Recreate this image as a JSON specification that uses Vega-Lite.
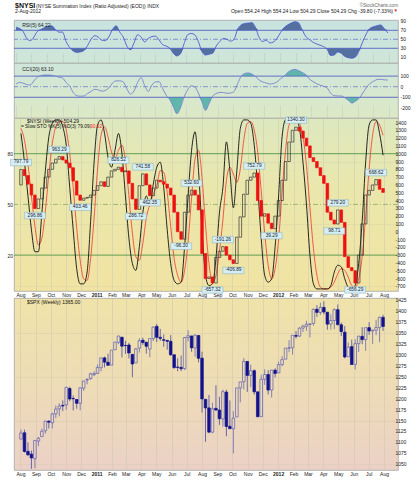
{
"$schema":"https://vega.github.io/schema/vega-lite/v6.json",
"background":"white",
"padding":{"left":6,"top":0,"right":2,"bottom":0},
"spacing":0,
"bounds":"flush",
"config":{"font":"Liberation Sans","view":{"stroke":"#a4a4a4","strokeWidth":0.8},
 "axis":{"labelFont":"Liberation Sans","labelFontSize":5,"labelColor":"#222","ticks":false,"domain":false,"minExtent":0,"labelPadding":1.5,"labelOverlap":false},
 "text":{"font":"Liberation Sans"}},
"datasets":{
"w":[
{"d":"2010-08-02","no":600,"nc":797.79,"k":92,"dd":95,"r":77,"c":25,"o":1107.5,"h":1129.2,"l":1107.5,"s":1121.6},
{"d":"2010-08-09","no":797.79,"nc":720,"k":75,"dd":88,"r":74,"c":40,"o":1122,"h":1129.2,"l":1076.6,"s":1079.3},
{"d":"2010-08-16","no":720,"nc":610,"k":55,"dd":74,"r":67,"c":33,"o":1079.6,"h":1100.1,"l":1069.5,"s":1071.7},
{"d":"2010-08-23","no":610,"nc":470,"k":35,"dd":55,"r":52,"c":20,"o":1073.4,"h":1081.6,"l":1039.7,"s":1064.6},
{"d":"2010-08-30","no":470,"nc":296.86,"k":22,"dd":37,"r":47,"c":16,"o":1062.9,"h":1105.1,"l":1040.9,"s":1104.5},
{"d":"2010-09-06","no":296.86,"nc":420,"k":22,"dd":26,"r":55,"c":55,"o":1103,"h":1112.4,"l":1091.2,"s":1109.6},
{"d":"2010-09-13","no":420,"nc":560,"k":45,"dd":30,"r":68,"c":90,"o":1113.4,"h":1131.5,"l":1113.4,"s":1125.6},
{"d":"2010-09-20","no":560,"nc":700,"k":70,"dd":46,"r":72,"c":106,"o":1126.6,"h":1148.9,"l":1120.2,"s":1148.7},
{"d":"2010-09-27","no":700,"nc":800,"k":90,"dd":68,"r":76,"c":110,"o":1148.6,"h":1150.3,"l":1131.9,"s":1146.2},
{"d":"2010-10-04","no":800,"nc":880,"k":98,"dd":86,"r":79,"c":110,"o":1144.9,"h":1167.7,"l":1131.9,"s":1165.2},
{"d":"2010-10-11","no":880,"nc":930,"k":100,"dd":96,"r":80,"c":108,"o":1165.3,"h":1184.4,"l":1155.7,"s":1176.2},
{"d":"2010-10-18","no":930,"nc":963.29,"k":100,"dd":99,"r":72,"c":100,"o":1176.8,"h":1189.4,"l":1159.7,"s":1183.1},
{"d":"2010-10-25","no":963.29,"nc":920,"k":96,"dd":99,"r":66,"c":90,"o":1184.7,"h":1196.1,"l":1171.7,"s":1183.3},
{"d":"2010-11-01","no":920,"nc":880,"k":85,"dd":94,"r":66,"c":82,"o":1185.7,"h":1227.1,"l":1174.3,"s":1225.9},
{"d":"2010-11-08","no":880,"nc":820,"k":60,"dd":80,"r":45,"c":40,"o":1223.2,"h":1227.1,"l":1194.1,"s":1199.2},
{"d":"2010-11-15","no":820,"nc":650,"k":35,"dd":60,"r":32,"c":5,"o":1200.4,"h":1207.4,"l":1173,"s":1199.7},
{"d":"2010-11-22","no":650,"nc":470,"k":12,"dd":36,"r":24,"c":-55,"o":1198.1,"h":1198.9,"l":1176.9,"s":1189.4},
{"d":"2010-11-29","no":470,"nc":403.46,"k":3,"dd":17,"r":21,"c":-85,"o":1189.4,"h":1225.6,"l":1173.6,"s":1224.7},
{"d":"2010-12-06","no":403.46,"nc":430,"k":3,"dd":6,"r":22,"c":-90,"o":1223.9,"h":1240.4,"l":1217.8,"s":1240.4},
{"d":"2010-12-13","no":430,"nc":440,"k":10,"dd":5,"r":25,"c":-88,"o":1242.5,"h":1246.7,"l":1232.8,"s":1243.9},
{"d":"2010-12-20","no":440,"nc":470,"k":40,"dd":18,"r":36,"c":-65,"o":1245.8,"h":1259.4,"l":1243.2,"s":1256.8},
{"d":"2010-12-27","no":470,"nc":530,"k":75,"dd":42,"r":50,"c":-45,"o":1254.7,"h":1262.6,"l":1251.5,"s":1257.6},
{"d":"2011-01-03","no":530,"nc":590,"k":97,"dd":71,"r":58,"c":-25,"o":1257.6,"h":1278.2,"l":1257.6,"s":1271.5},
{"d":"2011-01-10","no":590,"nc":640,"k":100,"dd":91,"r":55,"c":-30,"o":1270.8,"h":1293.2,"l":1262.7,"s":1293.2},
{"d":"2011-01-17","no":640,"nc":580,"k":92,"dd":96,"r":48,"c":-42,"o":1293.2,"h":1296.1,"l":1271.3,"s":1283.4},
{"d":"2011-01-24","no":580,"nc":700,"k":78,"dd":90,"r":47,"c":-35,"o":1283.3,"h":1302.7,"l":1275.9,"s":1276.3},
{"d":"2011-01-31","no":700,"nc":780,"k":72,"dd":81,"r":56,"c":-10,"o":1276.5,"h":1311,"l":1276.5,"s":1310.9},
{"d":"2011-02-07","no":780,"nc":800,"k":82,"dd":77,"r":72,"c":35,"o":1311.9,"h":1330.3,"l":1311.7,"s":1329.2},
{"d":"2011-02-14","no":800,"nc":826.52,"k":92,"dd":82,"r":80,"c":55,"o":1328.7,"h":1344.1,"l":1324.6,"s":1343},
{"d":"2011-02-21","no":826.52,"nc":770,"k":80,"dd":85,"r":66,"c":55,"o":1340.4,"h":1340.4,"l":1294.3,"s":1319.9},
{"d":"2011-02-28","no":770,"nc":780,"k":55,"dd":76,"r":55,"c":45,"o":1321.6,"h":1332.3,"l":1302.3,"s":1321.2},
{"d":"2011-03-07","no":780,"nc":620,"k":30,"dd":55,"r":35,"c":-20,"o":1322.7,"h":1327.7,"l":1291.8,"s":1304.3},
{"d":"2011-03-14","no":620,"nc":420,"k":15,"dd":33,"r":27,"c":-70,"o":1301.2,"h":1301.2,"l":1249.1,"s":1279.2},
{"d":"2011-03-21","no":420,"nc":286.72,"k":11,"dd":19,"r":42,"c":-40,"o":1281.7,"h":1315.8,"l":1281.7,"s":1313.8},
{"d":"2011-03-28","no":286.72,"nc":590,"k":25,"dd":17,"r":60,"c":40,"o":1315.5,"h":1337.9,"l":1305.3,"s":1332.4},
{"d":"2011-04-04","no":590,"nc":741.58,"k":45,"dd":27,"r":55,"c":85,"o":1333.6,"h":1339.5,"l":1322.9,"s":1328.2},
{"d":"2011-04-11","no":741.58,"nc":600,"k":55,"dd":42,"r":44,"c":10,"o":1329,"h":1329,"l":1302.7,"s":1319.7},
{"d":"2011-04-18","no":600,"nc":462.35,"k":50,"dd":50,"r":52,"c":-45,"o":1313.3,"h":1337.5,"l":1294.7,"s":1337.4},
{"d":"2011-04-25","no":462.35,"nc":560,"k":62,"dd":56,"r":56,"c":15,"o":1337.1,"h":1364.6,"l":1331.5,"s":1363.6},
{"d":"2011-05-02","no":560,"nc":660,"k":72,"dd":61,"r":57,"c":45,"o":1365.2,"h":1370.6,"l":1329.2,"s":1340.2},
{"d":"2011-05-09","no":660,"nc":640,"k":75,"dd":70,"r":49,"c":47,"o":1340.2,"h":1359.4,"l":1332,"s":1337.8},
{"d":"2011-05-16","no":640,"nc":610,"k":60,"dd":69,"r":38,"c":-16,"o":1334.8,"h":1346.8,"l":1318.5,"s":1333.3},
{"d":"2011-05-23","no":610,"nc":560,"k":35,"dd":57,"r":35,"c":-80,"o":1333.1,"h":1334.6,"l":1311.8,"s":1331.1},
{"d":"2011-05-30","no":560,"nc":470,"k":15,"dd":37,"r":30,"c":-120,"o":1331.1,"h":1345.2,"l":1297.9,"s":1300.2},
{"d":"2011-06-06","no":470,"nc":250,"k":5,"dd":18,"r":19,"c":-190,"o":1300.3,"h":1300.3,"l":1268.4,"s":1271},
{"d":"2011-06-13","no":250,"nc":0,"k":3,"dd":8,"r":13,"c":-255,"o":1272.2,"h":1292.5,"l":1262.7,"s":1271.5},
{"d":"2011-06-20","no":0,"nc":-96.3,"k":4,"dd":4,"r":18,"c":-200,"o":1271.5,"h":1298.6,"l":1262.9,"s":1268.5},
{"d":"2011-06-27","no":-96.3,"nc":250,"k":25,"dd":11,"r":40,"c":-100,"o":1268.4,"h":1341,"l":1265.6,"s":1339.7},
{"d":"2011-07-04","no":250,"nc":470,"k":55,"dd":28,"r":60,"c":-30,"o":1339.6,"h":1356.5,"l":1331.1,"s":1343.8},
{"d":"2011-07-11","no":470,"nc":532.6,"k":82,"dd":54,"r":63,"c":8,"o":1343.3,"h":1343.3,"l":1307.1,"s":1316.1},
{"d":"2011-07-18","no":532.6,"nc":470,"k":93,"dd":77,"r":60,"c":-2,"o":1315.9,"h":1347,"l":1295.9,"s":1345},
{"d":"2011-07-25","no":470,"nc":280,"k":70,"dd":82,"r":45,"c":-60,"o":1344.3,"h":1344.3,"l":1282.9,"s":1292.3},
{"d":"2011-08-01","no":280,"nc":-280,"k":35,"dd":66,"r":23,"c":-142,"o":1292.6,"h":1307.4,"l":1168.1,"s":1199.4},
{"d":"2011-08-08","no":-280,"nc":-600,"k":8,"dd":38,"r":15,"c":-225,"o":1198.5,"h":1198.5,"l":1101.5,"s":1178.8},
{"d":"2011-08-15","no":-600,"nc":-580,"k":2,"dd":15,"r":17,"c":-160,"o":1178.9,"h":1208.5,"l":1121.1,"s":1123.5},
{"d":"2011-08-22","no":-580,"nc":-657.32,"k":3,"dd":4,"r":19,"c":-90,"o":1123.6,"h":1190.7,"l":1121.1,"s":1176.8},
{"d":"2011-08-29","no":-657.32,"nc":-330,"k":18,"dd":8,"r":35,"c":-65,"o":1177.9,"h":1230.7,"l":1172.9,"s":1174},
{"d":"2011-09-05","no":-330,"nc":-250,"k":45,"dd":22,"r":45,"c":-54,"o":1174,"h":1204.4,"l":1140.1,"s":1154.2},
{"d":"2011-09-12","no":-250,"nc":-191.26,"k":60,"dd":41,"r":52,"c":-55,"o":1153.5,"h":1220.4,"l":1136.1,"s":1216},
{"d":"2011-09-19","no":-191.26,"nc":-300,"k":87,"dd":64,"r":50,"c":-62,"o":1215,"h":1220.4,"l":1114.2,"s":1136.4},
{"d":"2011-09-26","no":-300,"nc":-360,"k":70,"dd":72,"r":46,"c":-60,"o":1136.9,"h":1195.9,"l":1131.1,"s":1131.4},
{"d":"2011-10-03","no":-360,"nc":-406.89,"k":48,"dd":68,"r":50,"c":-45,"o":1131.2,"h":1171.4,"l":1074.8,"s":1155.5},
{"d":"2011-10-10","no":-406.89,"nc":-70,"k":70,"dd":63,"r":73,"c":30,"o":1158.2,"h":1224.6,"l":1158.2,"s":1224.6},
{"d":"2011-10-17","no":-70,"nc":190,"k":95,"dd":71,"r":82,"c":100,"o":1224.5,"h":1238.3,"l":1191.5,"s":1238.3},
{"d":"2011-10-24","no":190,"nc":480,"k":100,"dd":88,"r":85,"c":125,"o":1238.7,"h":1292.7,"l":1221.1,"s":1285.1},
{"d":"2011-10-31","no":480,"nc":660,"k":100,"dd":98,"r":86,"c":130,"o":1285,"h":1285,"l":1215.4,"s":1253.2},
{"d":"2011-11-07","no":660,"nc":700,"k":98,"dd":99,"r":87,"c":118,"o":1253.2,"h":1277.6,"l":1226.6,"s":1263.9},
{"d":"2011-11-14","no":700,"nc":752.79,"k":85,"dd":94,"r":76,"c":95,"o":1263.9,"h":1267,"l":1209.4,"s":1215.7},
{"d":"2011-11-21","no":752.79,"nc":400,"k":60,"dd":81,"r":54,"c":63,"o":1215.6,"h":1215.6,"l":1158.7,"s":1158.7},
{"d":"2011-11-28","no":400,"nc":200,"k":30,"dd":58,"r":45,"c":45,"o":1159,"h":1255.1,"l":1158.7,"s":1244.3},
{"d":"2011-12-05","no":200,"nc":230,"k":8,"dd":33,"r":48,"c":35,"o":1244.3,"h":1267.1,"l":1231.5,"s":1255.2},
{"d":"2011-12-12","no":230,"nc":110,"k":4,"dd":14,"r":42,"c":25,"o":1255.1,"h":1265.4,"l":1209.5,"s":1219.7},
{"d":"2011-12-19","no":110,"nc":39.29,"k":6,"dd":6,"r":44,"c":30,"o":1219.7,"h":1265.4,"l":1202.4,"s":1265.3},
{"d":"2011-12-26","no":39.29,"nc":200,"k":25,"dd":12,"r":52,"c":45,"o":1265,"h":1269.4,"l":1248.6,"s":1257.6},
{"d":"2012-01-02","no":200,"nc":400,"k":55,"dd":29,"r":65,"c":75,"o":1258.9,"h":1284.6,"l":1258.9,"s":1277.8},
{"d":"2012-01-09","no":400,"nc":660,"k":90,"dd":57,"r":76,"c":100,"o":1277.8,"h":1296.8,"l":1274.1,"s":1289.1},
{"d":"2012-01-16","no":660,"nc":900,"k":100,"dd":82,"r":82,"c":135,"o":1290.2,"h":1315.5,"l":1290.2,"s":1315.4},
{"d":"2012-01-23","no":900,"nc":1150,"k":100,"dd":97,"r":86,"c":155,"o":1315.3,"h":1333.5,"l":1306.1,"s":1316.3},
{"d":"2012-01-30","no":1150,"nc":1300,"k":100,"dd":100,"r":89,"c":164,"o":1316.2,"h":1345.3,"l":1300.5,"s":1344.9},
{"d":"2012-02-06","no":1300,"nc":1340.3,"k":100,"dd":100,"r":87,"c":152,"o":1344.3,"h":1354.3,"l":1337.5,"s":1342.6},
{"d":"2012-02-13","no":1340.3,"nc":1290,"k":95,"dd":98,"r":72,"c":135,"o":1343.1,"h":1363.4,"l":1340.8,"s":1361.2},
{"d":"2012-02-20","no":1290,"nc":1200,"k":75,"dd":90,"r":57,"c":115,"o":1361.2,"h":1368.9,"l":1352.3,"s":1365.7},
{"d":"2012-02-27","no":1200,"nc":1100,"k":50,"dd":73,"r":50,"c":75,"o":1365.2,"h":1378,"l":1354.9,"s":1370},
{"d":"2012-03-05","no":1100,"nc":950,"k":20,"dd":48,"r":44,"c":50,"o":1369.6,"h":1372,"l":1340,"s":1370.9},
{"d":"2012-03-12","no":950,"nc":900,"k":3,"dd":24,"r":40,"c":30,"o":1371.9,"h":1405.9,"l":1366.7,"s":1404.2},
{"d":"2012-03-19","no":900,"nc":820,"k":0,"dd":8,"r":37,"c":15,"o":1404.2,"h":1414,"l":1386.9,"s":1397.1},
{"d":"2012-03-26","no":820,"nc":720,"k":0,"dd":1,"r":34,"c":5,"o":1397.1,"h":1419.2,"l":1391.2,"s":1408.5},
{"d":"2012-04-02","no":720,"nc":620,"k":0,"dd":0,"r":28,"c":-10,"o":1408.5,"h":1422.4,"l":1392.8,"s":1398.1},
{"d":"2012-04-09","no":620,"nc":250,"k":0,"dd":0,"r":14,"c":-60,"o":1397.5,"h":1397.5,"l":1357.4,"s":1370.3},
{"d":"2012-04-16","no":250,"nc":150,"k":2,"dd":1,"r":15,"c":-85,"o":1370.3,"h":1392.8,"l":1358,"s":1378.5},
{"d":"2012-04-23","no":150,"nc":98.71,"k":10,"dd":4,"r":22,"c":-88,"o":1378.5,"h":1406.6,"l":1358.8,"s":1403.4},
{"d":"2012-04-30","no":98.71,"nc":279.2,"k":14,"dd":9,"r":19,"c":-88,"o":1403.3,"h":1415.3,"l":1367.3,"s":1369.1},
{"d":"2012-05-07","no":279.2,"nc":120,"k":13,"dd":12,"r":12,"c":-105,"o":1368.8,"h":1373.9,"l":1343.1,"s":1353.4},
{"d":"2012-05-14","no":120,"nc":-320,"k":6,"dd":11,"r":9,"c":-130,"o":1351.9,"h":1365.9,"l":1292,"s":1295.2},
{"d":"2012-05-21","no":-320,"nc":-460,"k":1,"dd":7,"r":8,"c":-155,"o":1295.7,"h":1328.5,"l":1295.7,"s":1317.8},
{"d":"2012-05-28","no":-460,"nc":-500,"k":0,"dd":2,"r":11,"c":-135,"o":1318.9,"h":1334.9,"l":1277.8,"s":1278},
{"d":"2012-06-04","no":-500,"nc":-656.29,"k":2,"dd":1,"r":25,"c":-110,"o":1278.3,"h":1335.5,"l":1266.7,"s":1325.7},
{"d":"2012-06-11","no":-656.29,"nc":-300,"k":15,"dd":6,"r":45,"c":-60,"o":1325.7,"h":1343.3,"l":1306.6,"s":1342.8},
{"d":"2012-06-18","no":-300,"nc":100,"k":40,"dd":19,"r":62,"c":-10,"o":1342.4,"h":1363.5,"l":1324.4,"s":1335},
{"d":"2012-06-25","no":100,"nc":470,"k":75,"dd":43,"r":74,"c":30,"o":1334.9,"h":1362.2,"l":1309.3,"s":1362.2},
{"d":"2012-07-02","no":470,"nc":530,"k":97,"dd":71,"r":78,"c":50,"o":1362.3,"h":1374.8,"l":1345.7,"s":1354.7},
{"d":"2012-07-09","no":530,"nc":600,"k":100,"dd":91,"r":80,"c":68,"o":1354.7,"h":1357.2,"l":1325.4,"s":1356.8},
{"d":"2012-07-16","no":600,"nc":668.62,"k":100,"dd":99,"r":82,"c":70,"o":1356.5,"h":1380,"l":1345.1,"s":1362.7},
{"d":"2012-07-23","no":668.62,"nc":544.09,"k":92,"dd":97,"r":74,"c":65,"o":1362.3,"h":1387.2,"l":1329.2,"s":1386},
{"d":"2012-07-30","no":554.24,"nc":504.29,"k":79.09,"dd":90.92,"r":64.22,"c":63.1,"o":1385.9,"h":1391.7,"l":1354.7,"s":1365}
],
"lab":[
{"d":"2010-08-02","v":797.79,"t":"797.79","p":"up"},
{"d":"2010-08-30","v":296.86,"t":"296.86","p":"dn"},
{"d":"2010-10-18","v":963.29,"t":"963.29","p":"up"},
{"d":"2010-11-29","v":403.46,"t":"403.46","p":"dn"},
{"d":"2011-02-14","v":826.52,"t":"826.52","p":"up"},
{"d":"2011-03-21","v":286.72,"t":"286.72","p":"dn"},
{"d":"2011-04-04","v":741.58,"t":"741.58","p":"up"},
{"d":"2011-04-18","v":462.35,"t":"462.35","p":"dn"},
{"d":"2011-06-20","v":-96.3,"t":"-96.30","p":"dn"},
{"d":"2011-07-11","v":532.6,"t":"532.60","p":"up"},
{"d":"2011-08-22","v":-657.32,"t":"-657.32","p":"dn"},
{"d":"2011-09-12","v":-191.26,"t":"-191.26","p":"up"},
{"d":"2011-10-03","v":-406.89,"t":"-406.89","p":"dn"},
{"d":"2011-11-14","v":752.79,"t":"752.79","p":"up"},
{"d":"2011-12-19","v":39.29,"t":"39.29","p":"dn"},
{"d":"2012-02-06","v":1340.3,"t":"1340.30","p":"up"},
{"d":"2012-04-23","v":98.71,"t":"98.71","p":"dn"},
{"d":"2012-04-30","v":279.2,"t":"279.20","p":"up"},
{"d":"2012-06-04","v":-656.29,"t":"-656.29","p":"dn"},
{"d":"2012-07-16","v":668.62,"t":"668.62","p":"up"}
]},
"vconcat":[
{"width":384,"height":20,"view":{"stroke":null},
 "layer":[
  {"data":{"values":[{"t":"$NYSI"}]},"mark":{"type":"text","align":"left","baseline":"middle","fontSize":7,"fontWeight":"bold","color":"#111"},
   "encoding":{"x":{"datum":{"year":2010,"month":7,"date":31,"utc":true},"type":"temporal","scale":{"type":"utc","domain":[{"year":2010,"month":7,"date":29,"utc":true},{"year":2012,"month":8,"date":19,"utc":true}]},"axis":null},
   "y":{"datum":1,"type":"quantitative","scale":{"domain":[3.6,0],"nice":false,"zero":false},"axis":null},"text":{"field":"t"}}},
  {"data":{"values":[{"t":"(NYSE Summation Index (Ratio Adjusted) (EOD)) INDX"}]},"mark":{"type":"text","align":"left","baseline":"middle","fontSize":5,"dx":21,"color":"#222"},
   "encoding":{"x":{"datum":{"year":2010,"month":7,"date":31,"utc":true},"type":"temporal"},"y":{"datum":1,"type":"quantitative"},"text":{"field":"t"}}},
  {"data":{"values":[{"t":"©StockCharts.com"}]},"mark":{"type":"text","align":"right","baseline":"middle","fontSize":4.6,"color":"#666"},
   "encoding":{"x":{"datum":{"year":2012,"month":8,"date":19,"utc":true},"type":"temporal"},"y":{"datum":1,"type":"quantitative"},"text":{"field":"t"}}},
  {"data":{"values":[{"t":"2-Aug-2012"}]},"mark":{"type":"text","align":"left","baseline":"middle","fontSize":5,"color":"#222"},
   "encoding":{"x":{"datum":{"year":2010,"month":7,"date":31,"utc":true},"type":"temporal"},"y":{"datum":2,"type":"quantitative"},"text":{"field":"t"}}},
  {"data":{"values":[{"t":"Open 554.24  High 554.24  Low 504.29  Close 504.29  Chg -39.80 (-7.33%)"}]},"mark":{"type":"text","align":"right","baseline":"middle","fontSize":5,"dx":-5,"color":"#222"},
   "encoding":{"x":{"datum":{"year":2012,"month":8,"date":19,"utc":true},"type":"temporal"},"y":{"datum":2,"type":"quantitative"},"text":{"field":"t"}}},
  {"data":{"values":[{"t":"▼"}]},"mark":{"type":"text","align":"right","baseline":"middle","fontSize":4.5,"color":"#dd1111"},
   "encoding":{"x":{"datum":{"year":2012,"month":8,"date":19,"utc":true},"type":"temporal"},"y":{"datum":2,"type":"quantitative"},"text":{"field":"t"}}}
 ]},
{"width":384,"height":43,
 "view":{"fill":{"gradient":"linear","x1":0,"y1":0,"x2":0,"y2":1,"stops":[{"offset":0,"color":"#c8e3df"},{"offset":1,"color":"#cfe6d8"}]},"stroke":"#a4a4a4"},
 "layer":[
  {"data":{"name":"w"},"mark":{"type":"area","color":"#53709f","interpolate":"monotone"},
   "encoding":{"x":{"field":"d","type":"temporal","scale":{"type":"utc","domain":[{"year":2010,"month":7,"date":29,"utc":true},{"year":2012,"month":8,"date":19,"utc":true}]},"axis":{"title":null,"labels":false,"grid":true,"gridColor":"#b9cfc6","gridWidth":0.6,"tickCount":{"interval":"month","step":1}}},
   "y":{"field":"r","type":"quantitative","scale":{"domain":[70,92.9],"range":[10.3,0],"clamp":true,"nice":false,"zero":false},"axis":null},"y2":{"datum":70}}},
  {"data":{"name":"w"},"mark":{"type":"area","color":"#53709f","interpolate":"monotone"},
   "encoding":{"x":{"field":"d","type":"temporal"},
   "y":{"field":"r","type":"quantitative","scale":{"domain":[-2.7,30],"range":[43,28.29],"clamp":true,"nice":false,"zero":false},"axis":null},"y2":{"datum":30}}},
  {"layer":[
    {"data":{"values":[{}]},"mark":{"type":"rule","color":"#5462c4","strokeWidth":0.9},"encoding":{"y":{"datum":70,"type":"quantitative","scale":{"domain":[-2.7,92.9],"nice":false,"zero":false},"axis":null}}},
    {"data":{"values":[{}]},"mark":{"type":"rule","color":"#5462c4","strokeWidth":0.9},"encoding":{"y":{"datum":30,"type":"quantitative"}}},
    {"data":{"values":[{}]},"mark":{"type":"rule","color":"#6f7dc8","strokeWidth":0.8,"strokeDash":[5,2,1,2]},"encoding":{"y":{"datum":50,"type":"quantitative"}}},
    {"data":{"name":"w"},"mark":{"type":"line","color":"#4b5bd0","strokeWidth":0.9,"interpolate":"monotone"},
     "encoding":{"x":{"field":"d","type":"temporal"},"y":{"field":"r","type":"quantitative"}}},
    {"data":{"values":[{"t":"RSI(5) 64.22"}]},"mark":{"type":"text","align":"left","baseline":"middle","fontSize":5,"color":"#222"},
     "encoding":{"x":{"datum":{"year":2010,"month":8,"date":14,"utc":true},"type":"temporal"},"y":{"datum":82,"type":"quantitative"},"text":{"field":"t"}}},
    {"data":{"values":[{"v":10},{"v":30},{"v":50},{"v":70},{"v":90}]},"mark":{"type":"text","align":"left","baseline":"middle","fontSize":5,"dx":2.5,"color":"#222"},
     "encoding":{"x":{"datum":{"year":2012,"month":8,"date":19,"utc":true},"type":"temporal"},"y":{"field":"v","type":"quantitative"},"text":{"field":"v","type":"nominal"}}}
  ]}
 ],
 "resolve":{"scale":{"y":"independent"}}},
{"width":384,"height":55,
 "view":{"fill":{"gradient":"linear","x1":0,"y1":0,"x2":0,"y2":1,"stops":[{"offset":0,"color":"#cfe6db"},{"offset":1,"color":"#dde9c5"}]},"stroke":"#a4a4a4"},
 "layer":[
  {"data":{"name":"w"},"mark":{"type":"area","color":"#5fb6ab","interpolate":"monotone"},
   "encoding":{"x":{"field":"d","type":"temporal","scale":{"type":"utc","domain":[{"year":2010,"month":7,"date":29,"utc":true},{"year":2012,"month":8,"date":19,"utc":true}]},"axis":{"title":null,"labels":false,"grid":true,"gridColor":"#bfd2c2","gridWidth":0.6,"tickCount":{"interval":"month","step":1}}},
   "y":{"field":"c","type":"quantitative","scale":{"domain":[100,224],"range":[13.12,0],"clamp":true,"nice":false,"zero":false},"axis":null},"y2":{"datum":100}}},
  {"data":{"name":"w"},"mark":{"type":"area","color":"#5fb6ab","interpolate":"monotone"},
   "encoding":{"x":{"field":"d","type":"temporal"},
   "y":{"field":"c","type":"quantitative","scale":{"domain":[-296,-100],"range":[55,34.27],"clamp":true,"nice":false,"zero":false},"axis":null},"y2":{"datum":-100}}},
  {"layer":[
    {"data":{"values":[{}]},"mark":{"type":"rule","color":"#5462c4","strokeWidth":0.9},"encoding":{"y":{"datum":100,"type":"quantitative","scale":{"domain":[-296,224],"nice":false,"zero":false},"axis":null}}},
    {"data":{"values":[{}]},"mark":{"type":"rule","color":"#5462c4","strokeWidth":0.9},"encoding":{"y":{"datum":-100,"type":"quantitative"}}},
    {"data":{"values":[{}]},"mark":{"type":"rule","color":"#6f7dc8","strokeWidth":0.8,"strokeDash":[5,2,1,2]},"encoding":{"y":{"datum":0,"type":"quantitative"}}},
    {"data":{"name":"w"},"mark":{"type":"line","color":"#7482d4","strokeWidth":0.9,"interpolate":"monotone"},
     "encoding":{"x":{"field":"d","type":"temporal"},"y":{"field":"c","type":"quantitative"}}},
    {"data":{"values":[{"t":"CCI(20) 63.10"}]},"mark":{"type":"text","align":"left","baseline":"middle","fontSize":5,"color":"#222"},
     "encoding":{"x":{"datum":{"year":2010,"month":8,"date":14,"utc":true},"type":"temporal"},"y":{"datum":167,"type":"quantitative"},"text":{"field":"t"}}},
    {"data":{"values":[{"v":-200},{"v":-100},{"v":0},{"v":100}]},"mark":{"type":"text","align":"left","baseline":"middle","fontSize":5,"dx":2.5,"color":"#222"},
     "encoding":{"x":{"datum":{"year":2012,"month":8,"date":19,"utc":true},"type":"temporal"},"y":{"field":"v","type":"quantitative"},"text":{"field":"v","type":"nominal"}}}
  ]}
 ],
 "resolve":{"scale":{"y":"independent"}}},
{"width":384,"height":173,
 "view":{"fill":{"gradient":"linear","x1":0,"y1":0,"x2":0,"y2":1,"stops":[{"offset":0,"color":"#dde8bf"},{"offset":0.4,"color":"#eae7ac"},{"offset":1,"color":"#f1e3a2"}]},"stroke":"#a4a4a4"},
 "layer":[
  {"layer":[
    {"data":{"values":[{}]},"mark":{"type":"rule","color":"#5f9d52","strokeWidth":1},"encoding":{"y":{"datum":80,"type":"quantitative","scale":{"domain":[-1.23,101.13],"nice":false,"zero":false},"axis":{"orient":"left","values":[20,50,80],"title":null,"grid":false}}}},
    {"data":{"values":[{}]},"mark":{"type":"rule","color":"#5f9d52","strokeWidth":1},"encoding":{"y":{"datum":20,"type":"quantitative"}}},
    {"data":{"values":[{}]},"mark":{"type":"rule","color":"#98b06c","strokeWidth":0.9,"strokeDash":[5,2,1,2]},"encoding":{"y":{"datum":50,"type":"quantitative"}}},
    {"data":{"name":"w"},"mark":{"type":"line","color":"#f04a3a","strokeWidth":0.9,"interpolate":"monotone"},
     "encoding":{"x":{"field":"d","type":"temporal","scale":{"type":"utc","domain":[{"year":2010,"month":7,"date":29,"utc":true},{"year":2012,"month":8,"date":19,"utc":true}]},"axis":{"title":null,"grid":true,"gridColor":"#cfcdb2","gridWidth":0.6,"tickCount":{"interval":"month","step":1},"labelExpr":"utcFormat(datum.value,'%m')=='01' ? utcFormat(datum.value,'%Y') : utcFormat(datum.value,'%b')","labelFontWeight":{"condition":{"test":"utcFormat(datum.value,'%m')=='01'","value":"bold"},"value":"normal"},"labelFlush":false,"labelOverlap":false}},
     "y":{"field":"dd","type":"quantitative"}}},
    {"data":{"name":"w"},"mark":{"type":"line","color":"#111111","strokeWidth":0.9,"interpolate":"monotone"},
     "encoding":{"x":{"field":"d","type":"temporal"},"y":{"field":"k","type":"quantitative"}}},
    {"data":{"values":[{"t":"$NYSI (Weekly) 504.29"}]},"mark":{"type":"text","align":"left","baseline":"middle","fontSize":5,"color":"#111"},
     "encoding":{"x":{"datum":{"year":2010,"month":8,"date":14,"utc":true},"type":"temporal"},"y":{"datum":99.2,"type":"quantitative"},"text":{"field":"t"}}},
    {"data":{"values":[{"t":"= Slow STO %K(5) %D(3) 79.09,"}]},"mark":{"type":"text","align":"left","baseline":"middle","fontSize":4.8,"color":"#111"},
     "encoding":{"x":{"datum":{"year":2010,"month":8,"date":2,"utc":true},"type":"temporal"},"y":{"datum":96,"type":"quantitative"},"text":{"field":"t"}}},
    {"data":{"values":[{"t":"90.92"}]},"mark":{"type":"text","align":"left","baseline":"middle","fontSize":4.8,"color":"#ee2222"},
     "encoding":{"x":{"datum":{"year":2010,"month":12,"date":19,"utc":true},"type":"temporal"},"y":{"datum":96,"type":"quantitative"},"text":{"field":"t"}}}
  ]},
  {"layer":[
    {"data":{"name":"w"},"mark":{"type":"bar","width":2.6,"strokeWidth":0.7},
     "encoding":{"x":{"field":"d","type":"temporal"},
      "y":{"field":"no","type":"quantitative","scale":{"domain":[-760,1458],"nice":false,"zero":false},"axis":{"orient":"right","values":[-700,-600,-500,-400,-300,-200,-100,0,100,200,300,400,500,600,700,800,900,1000,1100,1200,1300,1400],"title":null,"labels":false,"grid":true,"gridColor":"#d9d4a6","gridWidth":0.5}},
      "y2":{"field":"nc"},
      "fill":{"condition":{"test":"datum.nc < datum.no","value":"#ee1111"},"value":"transparent"},
      "stroke":{"condition":{"test":"datum.nc < datum.no","value":"#ee1111"},"value":"#333333"}}},
    {"data":{"name":"lab"},"transform":[{"filter":"datum.p=='up'"}],"mark":{"type":"rect","width":21,"height":6.5,"yOffset":-7,"fill":"#d5eef3","stroke":"#86aebb","strokeWidth":0.5},
     "encoding":{"x":{"field":"d","type":"temporal"},"y":{"field":"v","type":"quantitative"}}},
    {"data":{"name":"lab"},"transform":[{"filter":"datum.p=='dn'"}],"mark":{"type":"rect","width":21,"height":6.5,"yOffset":7,"fill":"#d5eef3","stroke":"#86aebb","strokeWidth":0.5},
     "encoding":{"x":{"field":"d","type":"temporal"},"y":{"field":"v","type":"quantitative"}}},
    {"data":{"name":"lab"},"transform":[{"filter":"datum.p=='up'"}],"mark":{"type":"text","fontSize":4.8,"dy":-7,"baseline":"middle","color":"#223"},
     "encoding":{"x":{"field":"d","type":"temporal"},"y":{"field":"v","type":"quantitative"},"text":{"field":"t"}}},
    {"data":{"name":"lab"},"transform":[{"filter":"datum.p=='dn'"}],"mark":{"type":"text","fontSize":4.8,"dy":7,"baseline":"middle","color":"#223"},
     "encoding":{"x":{"field":"d","type":"temporal"},"y":{"field":"v","type":"quantitative"},"text":{"field":"t"}}},
    {"data":{"values":[{"v":-700},{"v":-600},{"v":-500},{"v":-400},{"v":-300},{"v":-200},{"v":-100},{"v":0},{"v":100},{"v":200},{"v":300},{"v":400},{"v":500},{"v":600},{"v":700},{"v":800},{"v":900},{"v":1000},{"v":1100},{"v":1200},{"v":1300},{"v":1400}]},"mark":{"type":"text","align":"left","baseline":"middle","fontSize":5,"dx":2.5,"color":"#222"},
     "encoding":{"x":{"datum":{"year":2012,"month":8,"date":19,"utc":true},"type":"temporal"},"y":{"field":"v","type":"quantitative"},"text":{"field":"v","type":"nominal"}}}
  ]}
 ],
 "resolve":{"scale":{"y":"independent"}}},
{"width":384,"height":7,"view":{"stroke":null},"data":{"values":[{"t":""}]},"mark":{"type":"text"},"encoding":{"text":{"field":"t"}}},
{"width":384,"height":172,
 "view":{"fill":{"gradient":"linear","x1":0,"y1":0,"x2":0,"y2":1,"stops":[{"offset":0,"color":"#efe3a9"},{"offset":0.5,"color":"#eedcb6"},{"offset":1,"color":"#ebd1c6"}]},"stroke":"#a4a4a4"},
 "layer":[
  {"data":{"name":"w"},"transform":[{"filter":"datum.s >= datum.o"}],"mark":{"type":"rule","color":"#6b6bb4","strokeWidth":0.8},
   "encoding":{"x":{"field":"d","type":"temporal","scale":{"type":"utc","domain":[{"year":2010,"month":7,"date":29,"utc":true},{"year":2012,"month":8,"date":19,"utc":true}]},"axis":{"title":null,"grid":true,"gridColor":"#d3c7ae","gridWidth":0.6,"tickCount":{"interval":"month","step":1},"labelExpr":"utcFormat(datum.value,'%m')=='01' ? utcFormat(datum.value,'%Y') : utcFormat(datum.value,'%b')","labelFontWeight":{"condition":{"test":"utcFormat(datum.value,'%m')=='01'","value":"bold"},"value":"normal"},"labelFlush":false,"labelOverlap":false}},
   "y":{"field":"l","type":"quantitative","scale":{"domain":[1037,1430],"nice":false,"zero":false},"axis":{"orient":"right","values":[1050,1075,1100,1125,1150,1175,1200,1225,1250,1275,1300,1325,1350,1375,1400,1425],"title":null,"labels":false,"grid":true,"gridColor":"#d8cbb0","gridWidth":0.5}},
   "y2":{"field":"o"}}},
  {"data":{"name":"w"},"transform":[{"filter":"datum.s >= datum.o"}],"mark":{"type":"rule","color":"#6b6bb4","strokeWidth":0.8},
   "encoding":{"x":{"field":"d","type":"temporal"},"y":{"field":"s","type":"quantitative"},"y2":{"field":"h"}}},
  {"data":{"name":"w"},"transform":[{"filter":"datum.s < datum.o"}],"mark":{"type":"rule","color":"#4a4aa0","strokeWidth":0.8},
   "encoding":{"x":{"field":"d","type":"temporal"},"y":{"field":"l","type":"quantitative"},"y2":{"field":"h"}}},
  {"data":{"name":"w"},"mark":{"type":"bar","width":2.6,"strokeWidth":0.7},
   "encoding":{"x":{"field":"d","type":"temporal"},"y":{"field":"o","type":"quantitative"},"y2":{"field":"s"},
    "fill":{"condition":{"test":"datum.s < datum.o","value":"#12128c"},"value":"transparent"},
    "stroke":{"condition":{"test":"datum.s < datum.o","value":"#12128c"},"value":"#5c5cb4"}}},
  {"data":{"values":[{"t":"$SPX (Weekly) 1365.00"}]},"mark":{"type":"text","align":"left","baseline":"middle","fontSize":5,"color":"#111"},
   "encoding":{"x":{"datum":{"year":2010,"month":8,"date":14,"utc":true},"type":"temporal"},"y":{"datum":1420,"type":"quantitative"},"text":{"field":"t"}}},
  {"data":{"values":[{"v":1050},{"v":1075},{"v":1100},{"v":1125},{"v":1150},{"v":1175},{"v":1200},{"v":1225},{"v":1250},{"v":1275},{"v":1300},{"v":1325},{"v":1350},{"v":1375},{"v":1400},{"v":1425}]},"mark":{"type":"text","align":"left","baseline":"middle","fontSize":5,"dx":2.5,"color":"#222"},
   "encoding":{"x":{"datum":{"year":2012,"month":8,"date":19,"utc":true},"type":"temporal"},"y":{"field":"v","type":"quantitative"},"text":{"field":"v","type":"nominal"}}}
 ]}
],
"resolve":{"scale":{"x":"independent","y":"independent"}}
}
